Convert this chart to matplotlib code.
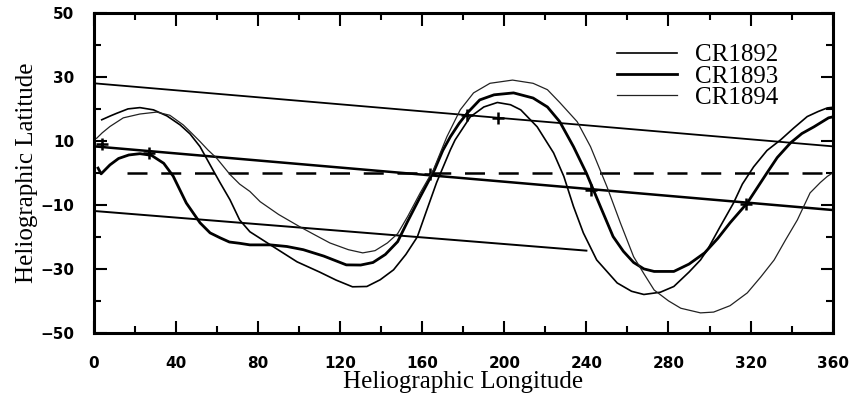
import matplotlib
matplotlib.use("Agg")
import matplotlib.pyplot as plt
from matplotlib.ticker import MultipleLocator

# neutral lines (heliographic lon, lat)
cr1892_lon = [3.8, 8, 11, 16.6, 22.4, 29, 35.6, 42, 46.8, 51.7, 58, 61.5, 66.3, 71, 76, 86, 99, 110, 118,
              126, 133, 139.5, 146, 152, 157.6, 162, 167, 173.7, 176, 183.4, 190, 196.6, 203, 208, 216, 224,
              229, 233.7, 238.5, 245, 255, 262, 268, 276, 282.6, 290, 295.6, 299, 305, 311.7, 316, 321.5,
              328, 334.6, 341, 347.6, 353, 357.4, 360]
cr1892_lat = [16.6, 17.8, 18.6, 20, 20.4, 19.7, 17.8, 15, 12.2, 8.2, 0.9, -3.1, -8.4, -14.7, -18.4, -22.5,
              -27.8, -31, -33.5, -35.6, -35.5, -33.4, -30.3, -25.5, -20, -12, -3, 7.2, 10.3, 17.5, 20.6, 22,
              21.3, 19.7, 14.4, 6.25, -1.1, -10.5, -18.75, -27.2, -34.4, -37, -38, -37.3, -35.5, -31, -27.2,
              -24, -17, -9.4, -3.5, 1.9, 7, 10.3, 14, 17.6, 19.2, 20.3, 20.5]

cr1893_lon = [2, 3.5, 7.8, 12, 17, 22.4, 28, 34, 38.6, 45, 51.7, 56.6, 61.5, 66, 71, 76, 86, 94, 102, 112,
              123, 130, 136, 142, 148, 153, 159, 166, 170, 173.7, 178, 182, 188, 195, 204.5, 214, 221, 227,
              233.7, 240, 246.8, 253, 258, 263, 268, 273, 282.6, 290, 297.6, 304, 310, 318.4, 328, 333,
              339.5, 345, 350.9, 358, 360]
cr1893_lat = [1.5, -0.3, 2.5, 4.5, 5.6, 6, 5.5, 3, -1, -9.4, -15.6, -18.75, -20.3, -21.6, -22, -22.5, -22.5,
              -23, -24, -26, -28.75, -28.8, -28, -25.5, -21.5, -15, -7.5, 1, 7, 11.3, 15.5, 18.75, 22.8,
              24.4, 25, 23.4, 20.6, 16, 8.2, -0.1, -10.5, -19.9, -24.5, -28, -30, -30.8, -30.8, -28.5, -25,
              -20.5, -15.6, -9.4, 0, 4.8, 9.4, 12.3, 14.4, 17.2, 17.5]

cr1894_lon = [1.3, 4, 7.8, 14.3, 22.4, 30.6, 37, 43.5, 47.5, 51.7, 55.5, 59.8, 66.3, 71, 76, 81, 90, 100.5,
              108, 115, 124, 131, 137, 143, 148, 153, 159, 165.4, 172, 178.5, 185, 193, 204, 214, 221, 227,
              235.5, 242, 250, 256.6, 263, 268, 273, 280, 286, 295.6, 302, 310, 318.4, 325, 331.5, 337,
              342.8, 349, 354, 357.4, 360]
cr1894_lat = [10.8, 12.5, 14.5, 17.2, 18.4, 19, 18, 15, 12.5, 9.8, 7.2, 4.6, -0.5, -3.5, -5.8, -9, -13,
              -16.9, -19.5, -21.9, -24, -25, -24.3, -21.9, -19, -13.5, -6.25, 0.9, 11.3, 19.7, 25, 28, 29,
              28, 26, 22, 16, 8.2, -4.3, -15.7, -26.2, -31.5, -36.6, -40, -42.3, -43.75, -43.5, -41.5,
              -37.5, -32.5, -27.2, -21, -14.7, -6.25, -3, -1.1, 0]

# straight tracks and the equator
track_a_lon = [0, 360]
track_a_lat = [28, 8.3]
track_b_lon = [0, 360]
track_b_lat = [8.3, -11.6]
track_c_lon = [0, 240]
track_c_lat = [-11.9, -24.3]
equator_lon = [16, 360]
equator_lat = [0, 0]

mark_lon = [4, 27, 164, 182, 197, 242, 318]
mark_lat = [9, 6.3, -0.3, 18, 17, -5.2, -9.6]

SERIF = "Liberation Serif"
SANS = "DejaVu Sans"

fig = plt.figure(figsize=(8.54, 4.03), dpi=100)
ax = fig.add_axes([0.110, 0.174, 0.865, 0.794])

ax.plot(track_a_lon, track_a_lat, color="black", lw=1.3)
ax.plot(track_b_lon, track_b_lat, color="black", lw=1.8)
ax.plot(track_c_lon, track_c_lat, color="black", lw=1.4)
ax.plot(equator_lon, equator_lat, color="black", lw=1.8, dashes=(8, 5.5))
ax.plot(mark_lon, mark_lat, ls="none", marker="+", ms=9, mew=1.8, color="black")

ax.plot(cr1892_lon, cr1892_lat, color="black", lw=1.2, label="CR1892", solid_joinstyle="round")
ax.plot(cr1893_lon, cr1893_lat, color="black", lw=2.0, label="CR1893", solid_joinstyle="round")
ax.plot(cr1894_lon, cr1894_lat, color="#222222", lw=0.9, label="CR1894", solid_joinstyle="round")

ax.set_xlim(0, 360)
ax.set_ylim(-50, 50)
ax.xaxis.set_major_locator(MultipleLocator(40))
ax.xaxis.set_minor_locator(MultipleLocator(20))
ax.yaxis.set_minor_locator(MultipleLocator(10))
ax.set_yticks([-50, -30, -10, 10, 30, 50])

ax.tick_params(which="both", direction="in", top=True, right=True, width=1.5)
ax.tick_params(which="major", length=9)
ax.tick_params(which="minor", length=5)
ax.tick_params(axis="x", pad=17)
ax.tick_params(axis="y", pad=14)
for lab in ax.get_xticklabels() + ax.get_yticklabels():
    lab.set_fontfamily(SANS)
    lab.set_fontweight("bold")
    lab.set_fontsize(11)
for s in ax.spines.values():
    s.set_linewidth(2.2)

ax.set_xlabel("Heliographic Longitude", family=SERIF, fontsize=18, labelpad=0)
ax.set_ylabel("Heliographic Latitude", family=SERIF, fontsize=18, labelpad=2)

leg = ax.legend(loc="upper right", frameon=False, prop={"family": SERIF, "size": 18},
                handlelength=2.4, handletextpad=0.7, labelspacing=-0.05,
                borderaxespad=0.2, bbox_to_anchor=(0.946, 0.95))

fig.savefig("out.png", dpi=100)
